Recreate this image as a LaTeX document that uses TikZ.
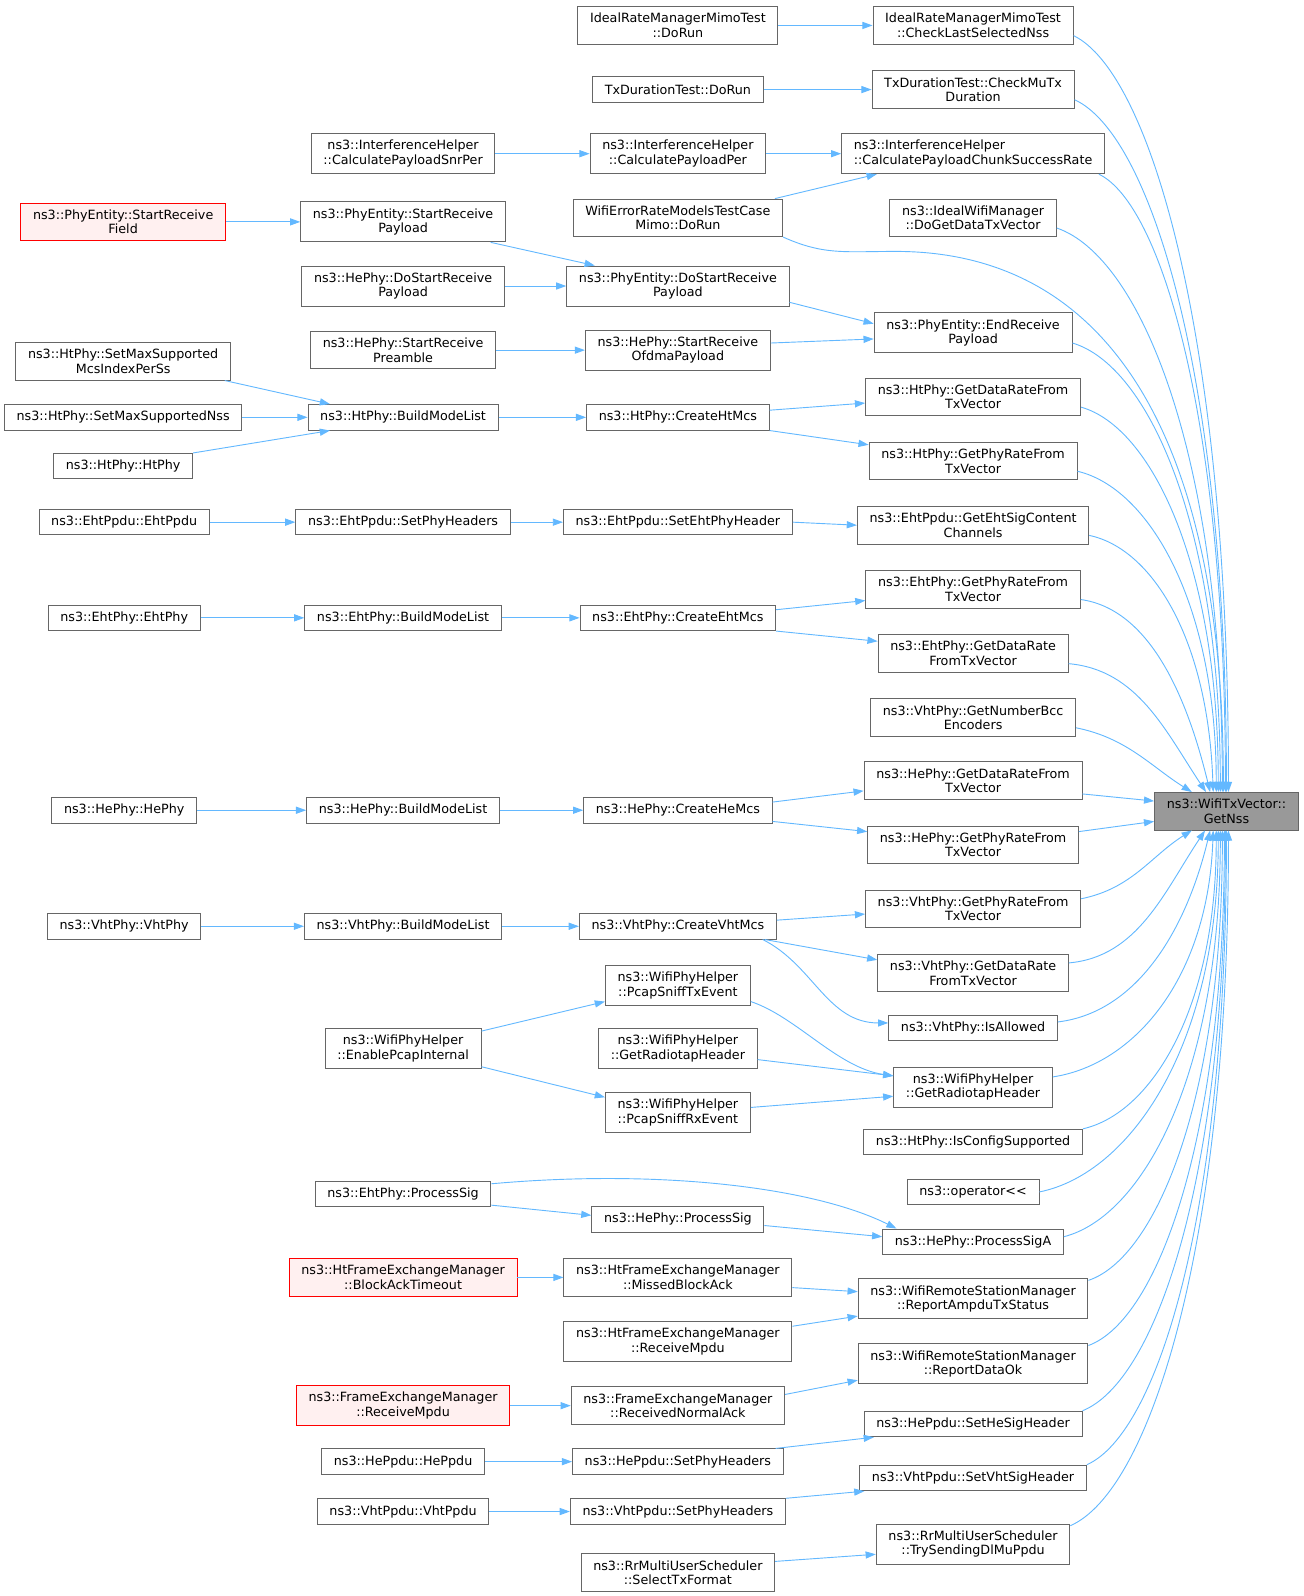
\documentclass[tikz,border=0pt]{standalone}
\usepackage{fontspec}
\setmainfont{DejaVu Sans}
\usepackage{tikz}
\usetikzlibrary{arrows.meta}

\definecolor{callblue}{HTML}{63B8FF}
\definecolor{boxgray}{HTML}{666666}
\definecolor{maingray}{HTML}{999999}
\definecolor{redfill}{HTML}{FFF0F0}

\tikzset{
  fn/.style={draw=boxgray, fill=white, line width=0.9pt, inner xsep=12pt, inner ysep=6.5pt,
    minimum height=25pt, align=center, font=\fontsize{12.5}{14.2}\selectfont},
  fnred/.style={fn, draw=red, fill=redfill},
  fnmain/.style={fn, fill=maingray},
  call/.style={draw=callblue, line width=0.9pt, -{Triangle[length=10pt,width=7pt]}}
}

\begin{document}
\begin{tikzpicture}[x=1pt,y=1pt]
    \useasboundingbox (0,0) rectangle (1281,-1568);

    % called function
    \node[fnmain] (T) at (1205,-797) {ns3::WifiTxVector::\\GetNss};

    % direct callers
    \node[fn] (c4a) at (956,-25) {IdealRateManagerMimoTest\\::CheckLastSelectedNss};
    \node[fn] (c4b) at (956,-88) {TxDurationTest::CheckMuTx\\Duration};
    \node[fn, align=left] (c4c) at (956,-151) {ns3::InterferenceHelper\\::CalculatePayloadChunkSuccessRate};
    \node[fn] (c4d) at (956,-214) {ns3::IdealWifiManager\\::DoGetDataTxVector};
    \node[fn] (c4e) at (956,-327) {ns3::PhyEntity::EndReceive\\Payload};
    \node[fn] (c4f) at (956,-390) {ns3::HtPhy::GetDataRateFrom\\TxVector};
    \node[fn] (c4g) at (956,-453) {ns3::HtPhy::GetPhyRateFrom\\TxVector};
    \node[fn] (c4h) at (956,-516) {ns3::EhtPpdu::GetEhtSigContent\\Channels};
    \node[fn] (c4i) at (956,-579) {ns3::EhtPhy::GetPhyRateFrom\\TxVector};
    \node[fn] (c4j) at (956,-642) {ns3::EhtPhy::GetDataRate\\FromTxVector};
    \node[fn] (c4k) at (956,-705) {ns3::VhtPhy::GetNumberBcc\\Encoders};
    \node[fn] (c4l) at (956,-767) {ns3::HePhy::GetDataRateFrom\\TxVector};
    \node[fn] (c4m) at (956,-830) {ns3::HePhy::GetPhyRateFrom\\TxVector};
    \node[fn] (c4n) at (956,-893) {ns3::VhtPhy::GetPhyRateFrom\\TxVector};
    \node[fn] (c4o) at (956,-956) {ns3::VhtPhy::GetDataRate\\FromTxVector};
    \node[fn] (c4p) at (956,-1010) {ns3::VhtPhy::IsAllowed};
    \node[fn] (c4q) at (956,-1068) {ns3::WifiPhyHelper\\::GetRadiotapHeader};
    \node[fn] (c4r) at (956,-1122) {ns3::HtPhy::IsConfigSupported};
    \node[fn] (c4s) at (956,-1171) {ns3::operator\mbox{<}\mbox{<}};
    \node[fn] (c4t) at (956,-1220) {ns3::HePhy::ProcessSigA};
    \node[fn] (c4u) at (956,-1276) {ns3::WifiRemoteStationManager\\::ReportAmpduTxStatus};
    \node[fn] (c4v) at (956,-1340) {ns3::WifiRemoteStationManager\\::ReportDataOk};
    \node[fn] (c4w) at (956,-1399) {ns3::HePpdu::SetHeSigHeader};
    \node[fn] (c4x) at (956,-1452) {ns3::VhtPpdu::SetVhtSigHeader};
    \node[fn] (c4y) at (956,-1517) {ns3::RrMultiUserScheduler\\::TrySendingDlMuPpdu};

    % second level
    \node[fn] (c3a) at (666,-25) {IdealRateManagerMimoTest\\::DoRun};
    \node[fn] (c3b) at (666,-88) {TxDurationTest::DoRun};
    \node[fn] (c3c) at (666,-151) {ns3::InterferenceHelper\\::CalculatePayloadPer};
    \node[fn] (c3d) at (666,-214) {WifiErrorRateModelsTestCase\\Mimo::DoRun};
    \node[fn] (c3e) at (666,-281) {ns3::PhyEntity::DoStartReceive\\Payload};
    \node[fn] (c3f) at (666,-344) {ns3::HePhy::StartReceive\\OfdmaPayload};
    \node[fn] (c3g) at (666,-410) {ns3::HtPhy::CreateHtMcs};
    \node[fn] (c3h) at (666,-513) {ns3::EhtPpdu::SetEhtPhyHeader};
    \node[fn] (c3i) at (666,-607) {ns3::EhtPhy::CreateEhtMcs};
    \node[fn] (c3j) at (666,-796) {ns3::HePhy::CreateHeMcs};
    \node[fn] (c3k) at (666,-910) {ns3::VhtPhy::CreateVhtMcs};
    \node[fn] (c3l) at (666,-968) {ns3::WifiPhyHelper\\::PcapSniffTxEvent};
    \node[fn] (c3m) at (666,-1030) {ns3::WifiPhyHelper\\::GetRadiotapHeader};
    \node[fn] (c3n) at (666,-1093) {ns3::WifiPhyHelper\\::PcapSniffRxEvent};
    \node[fn] (c3o) at (666,-1198) {ns3::HePhy::ProcessSig};
    \node[fn] (c3p) at (666,-1255) {ns3::HtFrameExchangeManager\\::MissedBlockAck};
    \node[fn] (c3q) at (666,-1318) {ns3::HtFrameExchangeManager\\::ReceiveMpdu};
    \node[fn] (c3r) at (666,-1381) {ns3::FrameExchangeManager\\::ReceivedNormalAck};
    \node[fn] (c3s) at (666,-1436) {ns3::HePpdu::SetPhyHeaders};
    \node[fn] (c3t) at (666,-1485) {ns3::VhtPpdu::SetPhyHeaders};
    \node[fn] (c3u) at (666,-1545) {ns3::RrMultiUserScheduler\\::SelectTxFormat};

    % third level
    \node[fn] (c2a) at (396,-151) {ns3::InterferenceHelper\\::CalculatePayloadSnrPer};
    \node[fn] (c2b) at (396,-218) {ns3::PhyEntity::StartReceive\\Payload};
    \node[fn] (c2c) at (396,-281) {ns3::HePhy::DoStartReceive\\Payload};
    \node[fn] (c2d) at (396,-344) {ns3::HePhy::StartReceive\\Preamble};
    \node[fn] (c2e) at (396,-410) {ns3::HtPhy::BuildModeList};
    \node[fn] (c2f) at (396,-513) {ns3::EhtPpdu::SetPhyHeaders};
    \node[fn] (c2g) at (396,-607) {ns3::EhtPhy::BuildModeList};
    \node[fn] (c2h) at (396,-796) {ns3::HePhy::BuildModeList};
    \node[fn] (c2i) at (396,-910) {ns3::VhtPhy::BuildModeList};
    \node[fn] (c2j) at (396,-1030) {ns3::WifiPhyHelper\\::EnablePcapInternal};
    \node[fn] (c2k) at (396,-1173) {ns3::EhtPhy::ProcessSig};
    \node[fnred] (c2l) at (396,-1255) {ns3::HtFrameExchangeManager\\::BlockAckTimeout};
    \node[fnred] (c2m) at (396,-1381) {ns3::FrameExchangeManager\\::ReceiveMpdu};
    \node[fn] (c2n) at (396,-1436) {ns3::HePpdu::HePpdu};
    \node[fn] (c2o) at (396,-1485) {ns3::VhtPpdu::VhtPpdu};

    % fourth level
    \node[fnred] (c1a) at (121,-218) {ns3::PhyEntity::StartReceive\\Field};
    \node[fn] (c1b) at (121,-355) {ns3::HtPhy::SetMaxSupported\\McsIndexPerSs};
    \node[fn] (c1c) at (121,-410) {ns3::HtPhy::SetMaxSupportedNss};
    \node[fn] (c1d) at (121,-458) {ns3::HtPhy::HtPhy};
    \node[fn] (c1e) at (122,-513) {ns3::EhtPpdu::EhtPpdu};
    \node[fn] (c1f) at (122,-607) {ns3::EhtPhy::EhtPhy};
    \node[fn] (c1g) at (122,-796) {ns3::HePhy::HePhy};
    \node[fn] (c1h) at (122,-910) {ns3::VhtPhy::VhtPhy};

    % calls between callers
    \draw[call] (c3a) -- (c4a);
    \draw[call] (c3b) -- (c4b);
    \draw[call] (c2a) -- (c3c);
    \draw[call] (c3c) -- (c4c);
    \draw[call] ([xshift=-8]c3d.north east) -- ([xshift=35]c4c.south west);
    \draw[call] (c1a) -- (c2b);
    \draw[call] ([xshift=-15]c2b.south east) -- ([xshift=28]c3e.north west);
    \draw[call] (c2c) -- (c3e);
    \draw[call] ([yshift=-16]c3e.east) -- ([yshift=9]c4e.west);
    \draw[call] (c2d) -- (c3f);
    \draw[call] ([yshift=7]c3f.east) -- ([yshift=-6]c4e.west);
    \draw[call] ([xshift=-6]c1b.south east) -- ([xshift=22]c2e.north west);
    \draw[call] (c1c) -- (c2e);
    \draw[call] (c1d.north east) -- ([xshift=22]c2e.south west);
    \draw[call] (c2e) -- (c3g);
    \draw[call] ([yshift=7]c3g.east) -- ([yshift=-6]c4f.west);
    \draw[call] (c3g.south east) -- ([yshift=16]c4g.west);
    \draw[call] (c1e) -- (c2f);
    \draw[call] (c2f) -- (c3h);
    \draw[call] (c3h.east) -- (c4h.west);
    \draw[call] (c1f) -- (c2g);
    \draw[call] (c2g) -- (c3i);
    \draw[call] ([yshift=8]c3i.east) -- ([yshift=-11]c4i.west);
    \draw[call] (c3i.south east) -- ([yshift=12]c4j.west);
    \draw[call] (c1g) -- (c2h);
    \draw[call] (c2h) -- (c3j);
    \draw[call] ([yshift=8]c3j.east) -- ([yshift=-10]c4l.west);
    \draw[call] ([yshift=-11]c3j.east) -- ([yshift=13]c4m.west);
    \draw[call] (c1h) -- (c2i);
    \draw[call] (c2i) -- (c3k);
    \draw[call] ([yshift=6]c3k.east) -- ([yshift=-5]c4n.west);
    \draw[call] ([xshift=-12]c3k.south east) -- ([yshift=13]c4o.west);
    \draw[call] ([xshift=-14]c3k.south east) .. controls +(50,-25) and +(-60,0) .. ([yshift=5]c4p.west);
    \draw[call] ([yshift=17]c2j.east) -- ([yshift=-16]c3l.west);
    \draw[call] ([yshift=-18]c2j.east) -- ([yshift=15]c3n.west);
    \draw[call] ([yshift=-16]c3l.east) .. controls +(45,-15) and +(-55,8) .. ([yshift=11]c4q.west);
    \draw[call] ([yshift=-11]c3m.east) -- ([yshift=11]c4q.west);
    \draw[call] ([yshift=5]c3n.east) -- ([yshift=-9]c4q.west);
    \draw[call] ([yshift=-11]c2k.east) -- ([yshift=4]c3o.west);
    \draw[call] ([yshift=10]c2k.east) .. controls +(168,15) and +(-80,40) .. ([xshift=14]c4t.north west);
    \draw[call] ([yshift=-6]c3o.east) -- ([yshift=5]c4t.west);
    \draw[call] (c2l) -- (c3p);
    \draw[call] ([yshift=-10]c3p.east) -- ([yshift=7]c4u.west);
    \draw[call] ([yshift=15]c3q.east) -- ([yshift=-17]c4u.west);
    \draw[call] (c2m) -- (c3r);
    \draw[call] ([yshift=11]c3r.east) -- ([yshift=-16]c4v.west);
    \draw[call] (c2n) -- (c3s);
    \draw[call] ([xshift=-8]c3s.north east) -- ([xshift=10]c4w.south west);
    \draw[call] (c2o) -- (c3t);
    \draw[call] (c3t.north east) -- ([xshift=5]c4x.south west);
    \draw[call] ([yshift=11]c3u.east) -- ([yshift=-10]c4y.west);

    % calls of GetNss
    \draw[call] ([yshift=-10]c4a.east) .. controls +(76,-37) and +(0,445) .. ([xshift=73]T.north west);
    \draw[call] ([yshift=-10]c4b.east) .. controls +(75,-34) and +(0,407) .. ([xshift=71]T.north west);
    \draw[call] ([xshift=-6]c4c.south east) .. controls +(62,-30) and +(0,364) .. ([xshift=70]T.north west);
    \draw[call] (c3d.south east) .. controls +(40,-18) and +(-50,0) .. (880,-247)
        .. controls +(220,0) and +(0,330) .. ([xshift=68]T.north west);
    \draw[call] ([yshift=-10]c4d.east) .. controls +(82,-28) and +(0,332) .. ([xshift=67]T.north west);
    \draw[call] ([yshift=-10]c4e.east) .. controls +(74,-22) and +(0,264) .. ([xshift=65]T.north west);
    \draw[call] ([yshift=-10]c4f.east) .. controls +(68,-19) and +(0,226) .. ([xshift=63]T.north west);
    \draw[call] ([yshift=-10]c4g.east) .. controls +(69,-16) and +(0,188) .. ([xshift=61]T.north west);
    \draw[call] ([yshift=-10]c4h.east) .. controls +(62,-13) and +(-5,150) .. ([xshift=58]T.north west);
    \draw[call] ([yshift=-10]c4i.east) .. controls +(64,-9) and +(-25,103) .. ([xshift=55]T.north west);
    \draw[call] ([yshift=-10]c4j.east) .. controls +(68,-6) and +(-40,60) .. ([xshift=51]T.north west);
    \draw[call] ([yshift=-10]c4k.east) .. controls +(50,-10) and +(-40,25) .. ([xshift=37]T.north west);
    \draw[call] ([yshift=-13]c4l.east) -- ([yshift=10]T.west);
    \draw[call] ([yshift=13]c4m.east) -- ([yshift=-10]T.west);
    \draw[call] ([yshift=10]c4n.east) .. controls +(50,10) and +(-40,-25) .. ([xshift=37]T.south west);
    \draw[call] ([yshift=10]c4o.east) .. controls +(68,6) and +(-40,-60) .. ([xshift=50]T.south west);
    \draw[call] ([yshift=6]c4p.east) .. controls +(75,9) and +(-25,-103) .. ([xshift=55]T.south west);
    \draw[call] ([yshift=10]c4q.east) .. controls +(80,12) and +(-5,-145) .. ([xshift=58]T.south west);
    \draw[call] (c4r.north east) .. controls +(67,15) and +(0,-176) .. ([xshift=61]T.south west);
    \draw[call] (c4s.east) .. controls +(89,18) and +(0,-212) .. ([xshift=63]T.south west);
    \draw[call] ([yshift=5]c4t.east) .. controls +(78,20) and +(0,-239) .. ([xshift=65]T.south west);
    \draw[call] ([yshift=-2]c4u.north east) .. controls +(66,22) and +(0,-265) .. ([xshift=67]T.south west);
    \draw[call] ([yshift=-2]c4v.north east) .. controls +(68,25) and +(0,-303) .. ([xshift=69]T.south west);
    \draw[call] (c4w.north east) .. controls +(72,29) and +(0,-343) .. ([xshift=70]T.south west);
    \draw[call] (c4x.north east) .. controls +(70,31) and +(0,-375) .. ([xshift=71]T.south west);
    \draw[call] ([yshift=-2]c4y.north east) .. controls +(78,34) and +(0,-409) .. ([xshift=73]T.south west);
\end{tikzpicture}
\end{document}
